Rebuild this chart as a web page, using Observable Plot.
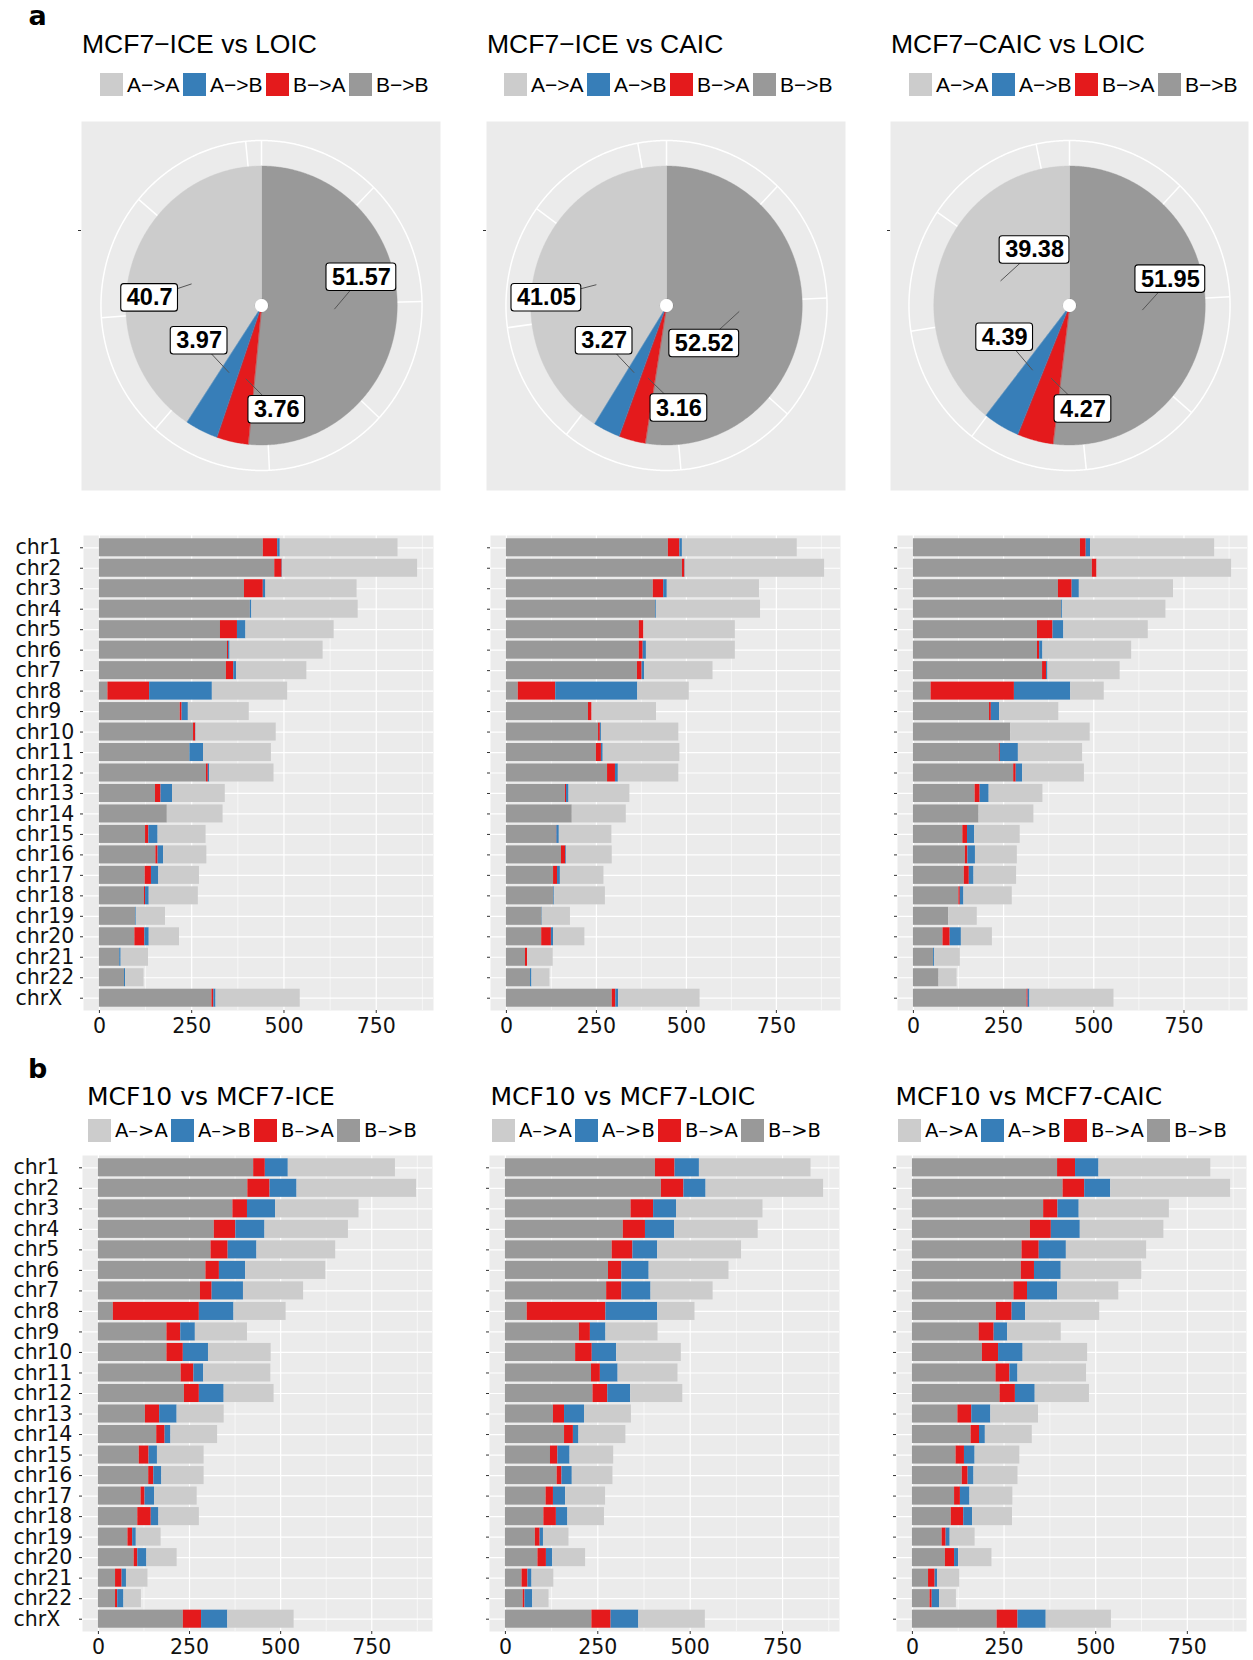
<!DOCTYPE html>
<html>
<head>
<meta charset="utf-8">
<script src="https://cdn.jsdelivr.net/npm/d3@7"></script>
<script src="https://cdn.jsdelivr.net/npm/@observablehq/plot@0.6"></script>
<style>
html, body { margin: 0; padding: 0; background: #fff; }
#page { position: relative; width: 1253px; height: 1660px; overflow: hidden; background: #fff; }
.abs { position: absolute; }
.tag { font-family: "DejaVu Sans"; font-weight: bold; font-size: 27px; line-height: 1; color: #000; }
.titleA { font-family: "Liberation Sans"; font-size: 26.5px; line-height: 1; white-space: nowrap; color: #000; }
.titleB { font-family: "DejaVu Sans"; font-size: 25px; line-height: 1; white-space: nowrap; color: #000; }
.legend { position: absolute; display: flex; height: 23px; align-items: center; }
.legend .item { display: flex; align-items: center; width: 83px; flex: none; }
.legend .sw { width: 23px; height: 23px; flex: none; }
.legend .lab { margin-left: 4px; line-height: 1; white-space: nowrap; color: #000; }
.legA .lab { font-family: "Liberation Sans"; font-size: 21px; }
.legB .lab { font-family: "DejaVu Sans"; font-size: 19.5px; }
svg { overflow: visible; }
</style>
</head>
<body>
<div id="page"></div>
<script>
// ---------------- DATA ----------------
const types = ["A->A", "A->B", "B->A", "B->B"];
const typeColors = ["#CCCCCC", "#377EB8", "#E41A1C", "#999999"];
const legendLabelsA = ["A\u2212>A", "A\u2212>B", "B\u2212>A", "B\u2212>B"];
const legendLabelsB = ["A\u2013>A", "A\u2013>B", "B\u2013>A", "B\u2013>B"];

const chroms = ["chr1","chr2","chr3","chr4","chr5","chr6","chr7","chr8","chr9","chr10","chr11","chr12",
  "chr13","chr14","chr15","chr16","chr17","chr18","chr19","chr20","chr21","chr22","chrX"];

const xMajorTicks = [0, 250, 500, 750];
const xMinorTicks = [125, 375, 625, 875];

// Panel a: pie titles and percentages
const pieTitles = ["MCF7\u2212ICE vs LOIC", "MCF7\u2212ICE vs CAIC", "MCF7\u2212CAIC vs LOIC"];
const piePctBB = [51.57, 52.52, 51.95];
const piePctBA = [3.76, 3.16, 4.27];
const piePctAB = [3.97, 3.27, 4.39];
const piePctAA = [40.7, 41.05, 39.38];
// theta-axis grid breaks and span of the theta scale per pie
const thetaGridBreaks = [0, 12.5, 25, 37.5, 50, 62.5, 75, 87.5, 100];
const thetaSpan = [101.6, 102.95, 103.45];

// Panel a bars: MCF7-ICE vs LOIC
const a1BB = [444,475,393,409,328,347,344,23,219,255,245,290,152,184,125,153,124,122,98,96,55,68,305];
const a1BA = [39,20,51,0,46,3,20,113,5,6,0,5,15,0,9,6,17,3,0,27,0,0,5];
const a1AB = [7,1,7,4,23,4,8,170,17,1,37,4,31,0,25,15,20,10,2,12,4,3,6];
const a1AA = [319,366,247,288,239,252,190,204,165,217,184,174,143,151,130,117,110,133,79,82,74,50,228];
// MCF7-ICE vs CAIC
const a2BB = [450,489,408,415,369,369,364,33,228,256,250,281,164,183,139,153,131,132,99,98,53,67,294];
const a2BA = [32,7,29,0,13,11,13,104,10,5,14,22,3,0,1,12,11,0,0,27,6,0,10];
const a2AB = [7,1,10,2,0,9,7,228,0,3,5,8,7,0,7,2,8,2,1,6,0,4,8];
const a2AA = [319,387,256,289,254,247,190,143,179,215,213,168,169,150,146,127,121,141,78,87,71,50,226];
// MCF7-CAIC vs LOIC
const a3BB = [463,496,402,411,344,344,358,49,211,270,238,278,171,182,137,144,141,126,98,82,56,71,315];
const a3BA = [16,13,38,0,43,6,11,231,5,0,3,7,14,0,13,7,14,4,0,20,0,0,3];
const a3AB = [12,0,20,3,30,9,4,156,23,0,50,18,25,0,20,21,13,10,0,31,3,0,5];
const a3AA = [344,373,261,286,234,246,200,93,164,220,178,171,149,152,126,116,118,134,79,86,71,50,233];

// Panel b bars
const barTitlesB = ["MCF10 vs MCF7-ICE", "MCF10 vs MCF7-LOIC", "MCF10 vs MCF7-CAIC"];
const b1BB = [426,410,369,318,309,295,280,41,188,188,227,236,129,160,112,138,117,108,81,98,47,47,233];
const b1BA = [32,61,40,59,47,37,32,236,38,45,35,41,39,23,27,14,11,37,13,10,18,6,50];
const b1AB = [63,74,77,80,79,72,86,95,40,69,27,68,48,16,23,22,26,21,10,25,12,17,72];
const b1AA = [294,328,229,229,216,220,165,143,143,172,184,137,129,128,128,116,117,111,68,83,59,48,182];

const b2BB = [406,422,340,319,289,279,274,59,200,190,233,237,130,160,122,140,110,104,81,88,45,48,234];
const b2BA = [53,61,61,60,56,36,41,213,30,45,24,40,30,24,20,13,20,34,13,23,16,5,52];
const b2AB = [66,60,62,79,67,74,79,140,42,66,48,62,54,15,33,28,33,31,9,17,11,21,75];
const b2AA = [302,318,234,226,227,216,168,101,141,175,162,141,127,127,118,110,108,99,69,89,59,44,180];

const b3BB = [396,411,358,322,299,297,277,229,182,191,228,239,124,160,119,136,115,106,81,90,44,48,231];
const b3BA = [49,59,39,57,47,36,37,43,41,44,38,42,38,23,23,16,16,34,11,25,18,6,57];
const b3AB = [64,71,58,79,74,73,82,37,37,67,22,54,52,16,29,16,26,24,11,11,7,20,77];
const b3AA = [305,327,246,228,219,220,167,202,146,176,187,148,130,128,122,120,117,109,68,91,60,46,178];

// ---------------- LAYOUT (pixels) ----------------
const page = document.getElementById("page");
const colorOf = Object.fromEntries(types.map((t, i) => [t, typeColors[i]]));

function addDiv(cls, text, left, top) {
  const d = document.createElement("div");
  d.className = "abs " + cls;
  d.textContent = text;
  d.style.left = left + "px";
  d.style.top = top + "px";
  page.appendChild(d);
  return d;
}
function addLegend(cls, labels, left, top) {
  const d = document.createElement("div");
  d.className = "legend " + cls;
  d.style.left = left + "px";
  d.style.top = top + "px";
  types.forEach((t, i) => {
    const it = document.createElement("div");
    it.className = "item";
    const sw = document.createElement("div");
    sw.className = "sw";
    sw.style.background = typeColors[i];
    const lb = document.createElement("div");
    lb.className = "lab";
    lb.textContent = labels[i];
    it.appendChild(sw); it.appendChild(lb);
    d.appendChild(it);
  });
  page.appendChild(d);
}
function place(node, left, top) {
  node.style.position = "absolute";
  node.style.left = left + "px";
  node.style.top = top + "px";
  page.appendChild(node);
}

// text measuring for label boxes
const ctx = document.createElement("canvas").getContext("2d");
const LABEL_FONT_SIZE = 23.5;
function measure(txt) {
  ctx.font = "bold " + LABEL_FONT_SIZE + "px 'Liberation Sans', Arial, sans-serif";
  const w = ctx.measureText(txt).width;
  return w > 0 ? w : txt.length * 0.53 * LABEL_FONT_SIZE;
}

// ---------------- PIES ----------------
const R_PIE = 139.5, R_HOLE = 6.5, R_RING = 165, R_ANCHOR = 75;
const X_STRETCH = 0.973;   // the figure's panels are slightly taller than wide
const pieFrames = [{left: 81, width: 359, cx: 180}, {left: 486, width: 359, cx: 180}, {left: 890, width: 358, cx: 179}];
const PIE_TOP = 121, PIE_H = 369, PIE_CY = 184;
// label nudges (px, screen coords) from the anchor point, per pie, order BB, BA, AB, AA
const labelNudges = [
  [[27, -32], [31, 31], [-30, -32], [-42, 14]],
  [[-35, 32], [31, 30], [-30, -32], [-50, 13]],
  [[28, -31], [32, 31], [-28, -33], [34, -31]]
];

function arcPts(a0, a1, r) {
  const n = Math.max(2, Math.ceil((a1 - a0) / 0.5));
  return d3.range(n + 1).map(k => {
    const a = (a0 + (a1 - a0) * k / n) * Math.PI / 180;
    return {x: r * Math.sin(a), y: r * Math.cos(a)};
  });
}

function piePlot(i) {
  const f = pieFrames[i];
  const order = ["B->B", "B->A", "A->B", "A->A"];
  const vals = [piePctBB[i], piePctBA[i], piePctAB[i], piePctAA[i]];
  const total = d3.sum(vals);
  const marks = [Plot.frame({fill: "#EBEBEB", stroke: "none"})];

  // radial theta grid
  const grid = thetaGridBreaks.map(b => {
    const a = b / thetaSpan[i] * 2 * Math.PI;
    return {x1: 0, y1: 0, x2: R_RING * Math.sin(a), y2: R_RING * Math.cos(a)};
  });
  marks.push(Plot.link(grid, {x1: "x1", y1: "y1", x2: "x2", y2: "y2", stroke: "white", strokeWidth: 1.5}));
  marks.push(Plot.line(arcPts(0, 360, R_RING), {x: "x", y: "y", stroke: "white", strokeWidth: 1.5}));

  // slices
  let cum = 0;
  const labels = [];
  order.forEach((t, k) => {
    const a0 = cum / total * 360, a1 = (cum + vals[k]) / total * 360;
    const poly = arcPts(a0, a1, R_PIE).concat(arcPts(a0, a1, R_HOLE).reverse());
    marks.push(Plot.line(poly, {x: "x", y: "y", fill: colorOf[t], stroke: colorOf[t], strokeWidth: 0.4, curve: "linear-closed"}));
    const am = ((a0 + a1) / 2) * Math.PI / 180;
    const ax = R_ANCHOR * Math.sin(am), ay = R_ANCHOR * Math.cos(am);
    const [ndx, ndy] = labelNudges[i][k];
    const txt = String(vals[k]);
    labels.push({ax, ay, lx: ax + ndx / X_STRETCH, ly: ay - ndy, text: txt, w: (measure(txt) + 11) / X_STRETCH});
    cum += vals[k];
  });
  marks.push(Plot.dot([{x: 0, y: 0}], {x: "x", y: "y", r: R_HOLE, fill: "white", stroke: "none"}));

  const BOX_H = 27.5;
  marks.push(Plot.link(labels, {x1: "ax", y1: "ay", x2: "lx", y2: "ly", stroke: "#555", strokeWidth: 1}));
  marks.push(Plot.rect(labels, {
    x1: d => d.lx - d.w / 2, x2: d => d.lx + d.w / 2,
    y1: d => d.ly - BOX_H / 2, y2: d => d.ly + BOX_H / 2,
    fill: "white", stroke: "black", strokeWidth: 1.1, rx: 3
  }));
  marks.push(Plot.text(labels, {
    x: "lx", y: "ly", text: "text", fontWeight: "bold", fontSize: LABEL_FONT_SIZE,
    fontFamily: "Liberation Sans, Arial, sans-serif", fill: "black"
  }));
  marks.push(Plot.axisY({ticks: [R_ANCHOR], tickFormat: () => "", tickSize: 3, stroke: "#333", label: null}));

  const ML = 6;
  return Plot.plot({
    width: f.width + ML, height: PIE_H,
    marginLeft: ML, marginRight: 0, marginTop: 0, marginBottom: 0,
    x: {domain: [-f.cx / X_STRETCH, (f.width - f.cx) / X_STRETCH], axis: null},
    y: {domain: [-(PIE_H - PIE_CY), PIE_CY], axis: null},
    marks
  });
}

// ---------------- BARS ----------------
function barPlot(BB, BA, AB, AA, labelLeft, marginLeft, frameH) {
  const rows = [];
  chroms.forEach((c, i) => {
    rows.push({chr: c, type: "B->B", value: BB[i]});
    rows.push({chr: c, type: "B->A", value: BA[i]});
    rows.push({chr: c, type: "A->B", value: AB[i]});
    rows.push({chr: c, type: "A->A", value: AA[i]});
  });
  const maxTotal = d3.max(chroms, (c, i) => BB[i] + BA[i] + AB[i] + AA[i]);
  const pad = 0.05 * maxTotal;
  const MB = 29, MR = 3;
  const marks = [
    Plot.frame({fill: "#EBEBEB", stroke: "none"}),
    Plot.gridX({ticks: xMinorTicks, stroke: "white", strokeOpacity: 1, strokeWidth: 0.6}),
    Plot.gridX({ticks: xMajorTicks, stroke: "white", strokeOpacity: 1, strokeWidth: 1.2}),
    Plot.gridY({stroke: "white", strokeOpacity: 1, strokeWidth: 1.2}),
    Plot.barX(rows, {x: "value", y: "chr", fill: "type"}),
    Plot.axisX({ticks: xMajorTicks, tickSize: 3, tickPadding: 5, stroke: "#333", fill: "#111",
      fontSize: 20.5, fontFamily: "DejaVu Sans", label: null}),
    Plot.axisY({tickSize: 3, tickFormat: () => "", stroke: "#333", label: null})
  ];
  if (labelLeft != null) {
    marks.push(Plot.text(chroms, {y: d => d, text: d => d, frameAnchor: "left", textAnchor: "start",
      dx: labelLeft - marginLeft, fontSize: 20.5, fontFamily: "DejaVu Sans", fill: "#111"}));
  }
  return Plot.plot({
    width: marginLeft + 350 + MR, height: frameH + MB,
    marginLeft, marginRight: MR, marginTop: 0, marginBottom: MB,
    x: {domain: [-pad, maxTotal + pad], axis: null},
    y: {domain: chroms, paddingInner: 0.12, paddingOuter: 0.16, round: false, axis: null},
    color: {domain: types, range: typeColors},
    style: {fontFamily: "DejaVu Sans", fontSize: "20.5px", color: "#111", background: "transparent"},
    marks
  });
}

// ---------------- ASSEMBLE ----------------
addDiv("tag", "a", 28.5, 2.2);
addDiv("tag", "b", 28, 1055.2);

const titleAx = [82, 487, 891];
const legendAx = [100, 504, 909];
pieTitles.forEach((t, i) => {
  addDiv("titleA", t, titleAx[i], 31);
  addLegend("legA", legendLabelsA, legendAx[i], 73);
  place(piePlot(i), pieFrames[i].left - 6, PIE_TOP);
});

const aBars = [[a1BB, a1BA, a1AB, a1AA], [a2BB, a2BA, a2AB, a2AA], [a3BB, a3BA, a3AB, a3AA]];
const aFrameLeft = [83, 490, 897];
aBars.forEach((s, i) => {
  const ml = i === 0 ? 83 : 20;
  place(barPlot(s[0], s[1], s[2], s[3], i === 0 ? 15 : null, ml, 475), aFrameLeft[i] - ml, 535);
});

const titleBx = [87, 490.5, 895.5];
const legendBx = [88, 492, 898];
const bBars = [[b1BB, b1BA, b1AB, b1AA], [b2BB, b2BA, b2AB, b2AA], [b3BB, b3BA, b3AB, b3AA]];
const bFrameLeft = [82, 489, 896];
bBars.forEach((s, i) => {
  addDiv("titleB", barTitlesB[i], titleBx[i], 1083.8);
  addLegend("legB", legendLabelsB, legendBx[i], 1119);
  const ml = i === 0 ? 82 : 20;
  place(barPlot(s[0], s[1], s[2], s[3], i === 0 ? 13 : null, ml, 476), bFrameLeft[i] - ml, 1155);
});
</script>
</body>
</html>
